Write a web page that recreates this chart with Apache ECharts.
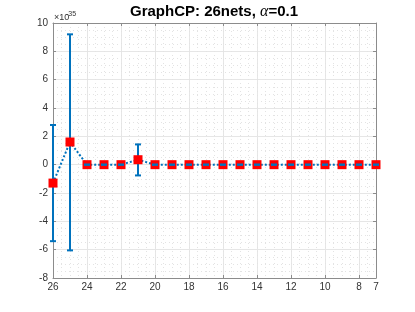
<!DOCTYPE html>
<html><head><meta charset="utf-8">
<script src="https://cdn.jsdelivr.net/npm/echarts@6/dist/echarts.min.js"></script>
<style>html,body{margin:0;padding:0;background:#fff}#c{width:415px;height:312px}</style>
</head><body><div id="c"></div>
<script>
const xValues = [26,25,24,23,22,21,20,19,18,17,16,15,14,13,12,11,10,9,8,7];
const yValues = [-1.3,1.6,0,0,0,0.35,0,0,0,0,0,0,0,0,0,0,0,0,0,0];
const errLow  = [-5.4,-6.05,0,0,0,-0.76,0,0,0,0,0,0,0,0,0,0,0,0,0,0];
const errHigh = [2.8,9.2,0,0,0,1.43,0,0,0,0,0,0,0,0,0,0,0,0,0,0];
const xTickLabels = [26,24,22,20,18,16,14,12,10,8,7];
const yMin = -8, yMax = 10, yStep = 2;
const titleText = 'GraphCP: 26nets, ';
const exponentText = '-35';

const FONT = "'Liberation Sans', Arial, Helvetica, sans-serif";
const AX = '#8c8c8c';
const BLUE = '#0072BD';

const chart = echarts.init(document.getElementById('c'), null, {renderer: 'canvas'});

const errData = xValues.map((x, i) => [x, errLow[i], errHigh[i]]);
const lineData = xValues.map((x, i) => [x, yValues[i]]);

function stemItem(params, api) {
  const x = api.value(0);
  const p1 = api.coord([x, api.value(1)]);
  const p2 = api.coord([x, api.value(2)]);
  return {type: 'line', shape: {x1: p1[0], y1: p1[1], x2: p2[0], y2: p2[1]},
          style: {stroke: BLUE, lineWidth: 2}};
}
function capItem(params, api) {
  const x = api.value(0);
  const p1 = api.coord([x, api.value(1)]);
  const p2 = api.coord([x, api.value(2)]);
  const hw = 3;
  return {type: 'group', children: [
    {type: 'line', shape: {x1: p1[0]-hw, y1: p1[1], x2: p1[0]+hw, y2: p1[1]}, style: {stroke: BLUE, lineWidth: 2}},
    {type: 'line', shape: {x1: p2[0]-hw, y1: p2[1], x2: p2[0]+hw, y2: p2[1]}, style: {stroke: BLUE, lineWidth: 2}}
  ]};
}

const xCommon = {type: 'value', min: 7, max: 26, inverse: true};

chart.setOption({
  animation: false,
  backgroundColor: '#fff',
  textStyle: {fontFamily: FONT},
  grid: {left: 53, right: 39, top: 23, bottom: 34},
  graphic: [
    {type: 'text', x: 214, y: 12, style: {
      text: '{n|' + titleText + '}{a|α}{n|=0.1}',
      align: 'center', verticalAlign: 'middle',
      rich: {
        n: {fontFamily: FONT, fontSize: 15, fontWeight: 'bold', fill: '#000'},
        a: {fontFamily: "'Liberation Serif', 'DejaVu Serif', serif", fontSize: 16, fontStyle: 'italic', fill: '#000'}
      }}},
    {type: 'text', x: 54, y: 18, style: {text: '×10', fontFamily: FONT, fontSize: 9, fill: '#333', align: 'left', verticalAlign: 'middle'}},
    {type: 'text', x: 66, y: 14, style: {text: exponentText, fontFamily: FONT, fontSize: 7, fill: '#333', align: 'left', verticalAlign: 'middle'}}
  ],
  xAxis: [
    Object.assign({}, xCommon, {
      position: 'bottom',
      axisLine: {show: true, onZero: false, lineStyle: {color: AX, width: 1}},
      axisTick: {show: true, inside: true, length: 3, customValues: xTickLabels, lineStyle: {color: AX}},
      axisLabel: {show: true, customValues: xTickLabels, color: '#333', fontSize: 10, fontFamily: FONT, margin: 4},
      splitLine: {show: true, lineStyle: {color: '#e6e6e6', width: 1}}
    }),
    Object.assign({}, xCommon, {
      position: 'top',
      axisLine: {show: true, onZero: false, lineStyle: {color: AX, width: 1}},
      axisTick: {show: true, inside: true, length: 3, customValues: xTickLabels, lineStyle: {color: AX}},
      axisLabel: {show: false},
      splitLine: {show: false}
    }),
    Object.assign({}, xCommon, {
      position: 'bottom',
      interval: 0.5,
      axisLine: {show: false}, axisTick: {show: false}, axisLabel: {show: false},
      splitLine: {show: true, lineStyle: {color: '#e3e3e3', width: 1, type: [1, 3]}}
    })
  ],
  yAxis: [
    {type: 'value', min: yMin, max: yMax, interval: yStep, position: 'left',
     axisLine: {show: true, onZero: false, lineStyle: {color: AX, width: 1}},
     axisTick: {show: true, inside: true, length: 3, lineStyle: {color: AX}},
     axisLabel: {color: '#333', fontSize: 10, fontFamily: FONT, margin: 5},
     splitLine: {show: true, lineStyle: {color: '#e6e6e6', width: 1}},
     minorTick: {show: false, splitNumber: 4},
     minorSplitLine: {show: true, lineStyle: {color: '#e3e3e3', width: 1, type: [1, 3]}}},
    {type: 'value', min: yMin, max: yMax, interval: yStep, position: 'right',
     axisLine: {show: true, onZero: false, lineStyle: {color: AX, width: 1}},
     axisTick: {show: true, inside: true, length: 3, lineStyle: {color: AX}},
     axisLabel: {show: false}, splitLine: {show: false}}
  ],
  series: [
    {type: 'custom', xAxisIndex: 0, yAxisIndex: 0, renderItem: stemItem, data: errData,
     encode: {x: 0, y: [1, 2]}, z: 2, silent: true},
    {type: 'line', xAxisIndex: 0, yAxisIndex: 0, data: lineData, z: 3,
     lineStyle: {color: BLUE, width: 2, type: [2, 2]},
     symbol: 'rect', symbolSize: 9, itemStyle: {color: '#ff0000'}},
    {type: 'custom', xAxisIndex: 0, yAxisIndex: 0, renderItem: capItem, data: errData,
     encode: {x: 0, y: [1, 2]}, z: 4, silent: true}
  ]
});
</script>
</body></html>
